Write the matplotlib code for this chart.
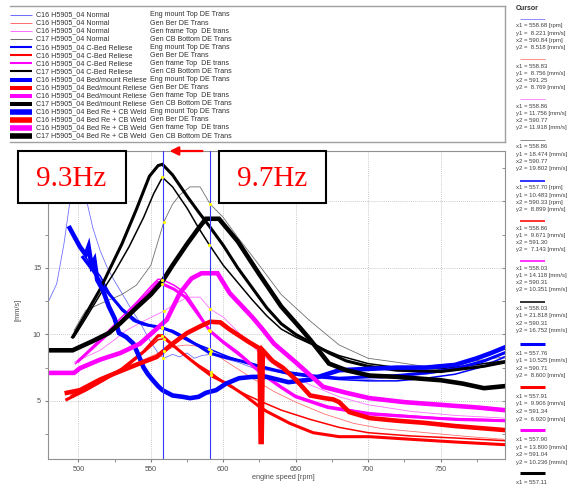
import matplotlib
matplotlib.use('Agg')
import matplotlib.pyplot as plt
from matplotlib.patches import Rectangle
from matplotlib.ticker import MultipleLocator, NullFormatter

plt.rcParams['font.family'] = ['Liberation Sans', 'DejaVu Sans']

# --- legend texts ---
run_names = ['C16 H5905_04 Normal', 'C16 H5905_04 Normal', 'C16 H5905_04 Normal', 'C17 H5905_04 Normal',
             'C16 H5905_04 C-Bed Reliese', 'C16 H5905_04 C-Bed Reliese', 'C16 H5905_04 C-Bed Reliese',
             'C17 H5905_04 C-Bed Reliese',
             'C16 H5905_04 Bed/mount Reliese', 'C16 H5905_04 Bed/mount Reliese',
             'C16 H5905_04 Bed/mount Reliese', 'C17 H5905_04 Bed/mount Reliese',
             'C16 H5905_04 Bed Re + CB Weld', 'C16 H5905_04 Bed Re + CB Weld',
             'C16 H5905_04 Bed Re + CB Weld', 'C17 H5905_04 Bed Re + CB Weld']
channels = ['Eng mount Top DE Trans', 'Gen Ber DE Trans', 'Gen frame Top  DE trans', 'Gen CB Bottom DE Trans']

# --- Normal (thin) ---
normal_eng_rpm = [479, 485, 490, 494, 500, 506, 510, 515, 520, 525, 530, 537, 543, 550, 555, 559, 565, 570, 575, 580,
                  585, 591, 600, 610, 620, 630, 645, 660, 680, 700, 720, 740, 760, 780, 794]
normal_eng_val = [12.4, 13.8, 16.8, 19.9, 22.0, 19.9, 18.0, 16.3, 15.0, 14.0, 13.1, 11.8, 10.8, 9.4, 8.6, 8.2, 8.5,
                  8.3, 8.6, 8.2, 8.4, 8.5, 8.2, 7.9, 7.5, 7.3, 7.0, 6.8, 6.7, 6.6, 6.8, 7.0, 7.3, 7.8, 8.2]
normal_ber_rpm = [497, 505, 515, 530, 545, 559, 567, 575, 583, 591, 600, 610, 620, 635, 650, 670, 690, 710, 740, 770, 794]
normal_ber_val = [5.6, 5.9, 6.5, 7.3, 8.1, 8.76, 9.1, 9.2, 9.1, 8.77, 8.1, 7.4, 6.7, 5.7, 4.9, 4.0, 3.3, 2.9, 2.6,
                  2.3, 2.1]
normal_frame_rpm = [497, 505, 515, 525, 533, 545, 559, 567, 575, 584, 591, 600, 610, 625, 640, 660, 680, 700, 730,
                    760, 794]
normal_frame_val = [7.9, 8.3, 8.8, 9.6, 10.3, 11.0, 11.76, 12.3, 12.8, 12.8, 11.9, 11.3, 10.2, 8.6, 7.3, 6.2, 5.3,
                    4.7, 4.2, 3.9, 3.7]
normal_cb_rpm = [497, 505, 515, 530, 540, 550, 559, 565, 570, 577, 584, 591, 600, 610, 620, 640, 660, 680, 700, 720,
                 738, 760, 780, 794]
normal_cb_val = [10.3, 11.8, 12.3, 13.0, 13.7, 15.2, 18.47, 19.8, 20.5, 21.1, 21.1, 19.8, 18.8, 17.3, 15.9, 13.0,
                 11.0, 9.2, 8.2, 7.9, 7.6, 7.8, 8.1, 8.3]

# --- C-Bed Reliese ---
cbed_eng_rpm = [503, 508, 515, 522, 530, 538, 545, 551, 557.7, 565, 574, 581, 590.3, 597, 604, 615, 630, 645, 660,
                680, 700, 720, 740, 760, 780, 794]
cbed_eng_val = [16.2, 15.3, 14.4, 13.0, 11.8, 11.0, 10.7, 10.6, 10.48, 10.3, 9.8, 9.3, 8.9, 8.6, 8.3, 7.9, 7.4,
                7.0, 6.8, 6.6, 6.5, 6.5, 6.7, 7.0, 7.6, 8.3]
cbed_ber_rpm = [495, 505, 520, 535, 548, 555, 558.9, 566, 575, 583, 591.3, 604, 615, 625, 640, 660, 680, 700, 730,
                760, 794]
cbed_ber_val = [5.4, 5.9, 6.7, 7.7, 8.9, 9.6, 9.67, 9.1, 8.3, 7.7, 7.14, 6.1, 5.5, 5.0, 4.3, 3.6, 3.0, 2.6, 2.35,
                2.2, 2.0]
cbed_frame_rpm = [498, 510, 521, 529, 540, 550, 555, 558, 566, 574, 582, 590.3, 600, 610, 627, 640, 650, 672, 701,
                  750, 794]
cbed_frame_val = [7.8, 9.1, 10.3, 11.2, 12.4, 13.6, 14.15, 14.12, 13.7, 13.1, 11.8, 10.35, 9.5, 8.7, 7.1, 6.1, 5.4,
                  4.6, 4.1, 3.7, 3.55]
cbed_cb_rpm = [497, 505, 515, 525, 535, 545, 552, 558, 565, 575, 583, 590.3, 600, 610, 620, 630, 640, 650, 660, 680,
               700, 720, 750, 780, 794]
cbed_cb_val = [9.8, 11.2, 13.0, 14.7, 16.6, 18.8, 20.6, 21.82, 21.1, 19.5, 18.0, 16.75, 15.2, 13.9, 12.6, 11.4,
               10.4, 9.8, 9.3, 8.4, 7.8, 7.5, 7.4, 7.8, 8.0]

# --- Bed/mount Reliese ---
bedm_eng_rpm = [503, 510, 520, 530, 540, 548, 557.8, 565, 575, 582, 590.7, 600, 612, 625, 640, 660, 680, 700, 720,
                740, 760, 780, 794]
bedm_eng_val = [15.8, 14.8, 13.2, 11.9, 11.0, 10.7, 10.5, 10.2, 9.6, 9.2, 8.6, 8.3, 8.0, 7.6, 7.2, 6.9, 6.7, 6.8,
                6.9, 7.1, 7.4, 8.0, 8.6]
bedm_ber_rpm = [492, 505, 518, 530, 545, 555, 557.9, 565, 575, 583, 591.3, 604, 615, 625, 630, 646, 662, 680, 701,
                730, 760, 794]
bedm_ber_val = [5.1, 5.8, 6.6, 7.4, 8.7, 9.9, 9.9, 9.2, 8.3, 7.6, 6.92, 6.2, 5.4, 4.55, 4.2, 3.3, 2.6, 2.3, 2.3,
                2.1, 1.9, 1.7]
bedm_frame_rpm = [500, 510, 521, 530, 540, 550, 555, 557.9, 566, 574, 582, 591, 600, 612, 627, 640, 650, 672, 701,
                  730, 760, 794]
bedm_frame_val = [8.0, 9.0, 10.1, 11.0, 12.2, 13.3, 13.9, 13.8, 13.4, 12.8, 11.6, 10.24, 9.4, 8.4, 7.0, 6.0, 5.3,
                  4.5, 4.0, 3.8, 3.6, 3.5]
bedm_cb_rpm = [496, 505, 515, 522, 530, 540, 549, 555, 558, 565, 575, 583, 590, 600, 610, 620, 630, 640, 650, 660,
               673, 685, 700, 720, 750, 780, 794]
bedm_cb_val = [9.8, 11.5, 13.4, 15.0, 16.8, 19.4, 21.9, 22.7, 22.8, 22.0, 20.4, 19.2, 18.2, 16.7, 15.0, 13.5, 12.0,
               10.8, 10.0, 9.4, 8.6, 8.0, 7.6, 7.3, 7.2, 7.6, 7.9]

# --- Bed Re + CB Weld ---
weld_eng_rpm = [494, 497, 501, 505, 507, 509, 511, 513, 517, 521, 525, 528, 533, 538, 542, 545, 548, 551, 555, 558,
                565, 572, 577, 583, 588, 595, 602, 611, 620, 630, 645, 660, 680, 700, 720, 740, 760, 775, 785, 794]
weld_eng_val = [18.0, 17.4, 16.6, 16.0, 16.6, 15.2, 15.6, 14.1, 13.3, 12.1, 11.2, 10.1, 9.8, 9.3, 8.3, 7.5, 7.0,
                6.6, 6.1, 5.8, 5.4, 5.3, 5.2, 5.3, 5.6, 5.8, 6.3, 6.7, 6.8, 6.8, 6.4, 6.6, 7.3, 7.4, 7.5, 7.5, 7.7,
                8.2, 8.6, 9.0]
weld_ber_rpm = [492, 501, 515, 526, 542, 554, 565, 575, 584, 591, 598, 604, 611, 618, 625, 625.8, 626.5, 627.3, 634,
                641, 650, 660, 670, 676, 680, 687, 701, 720, 738, 760, 794]
weld_ber_val = [5.6, 5.8, 6.6, 7.1, 7.8, 8.3, 9.3, 10.1, 10.6, 10.95, 10.9, 10.4, 9.9, 9.4, 8.95, 1.9, 1.9, 8.8,
                8.0, 7.5, 6.6, 5.4, 5.2, 5.1, 4.9, 4.15, 3.7, 3.5, 3.35, 3.1, 2.8]
weld_frame_rpm = [479, 497, 501, 515, 529, 542.5, 561, 570, 578, 585, 596, 604.5, 620, 627, 635, 650, 669, 685, 701,
                  725, 750, 775, 794]
weld_frame_val = [7.1, 7.1, 7.45, 8.1, 8.6, 9.3, 11.1, 13.1, 14.2, 14.6, 14.6, 13.1, 11.3, 10.4, 9.3, 7.9, 6.05,
                  5.6, 5.2, 4.9, 4.7, 4.5, 4.3]
weld_cb_rpm = [479, 496, 500, 510, 521, 529, 540, 550, 558, 565, 575, 583, 588, 597, 610, 625, 640, 653, 660, 673,
               685, 701, 720, 750, 765, 780, 794]
weld_cb_val = [8.8, 8.8, 9.0, 9.5, 10.1, 10.85, 12.0, 13.0, 14.0, 15.2, 16.8, 18.0, 18.7, 18.7, 17.0, 14.5, 12.1,
               10.5, 9.6, 7.8, 7.3, 6.9, 6.8, 6.55, 6.3, 5.95, 6.1]

# --- cursor readouts ---
cur_x1 = [558.68, 558.83, 558.86, 558.86, 557.70, 558.86, 558.03, 558.03, 557.76, 557.91, 557.90, 557.11]
cur_y1 = [8.221, 8.756, 11.756, 18.474, 10.483, 9.671, 14.118, 21.818, 10.525, 9.906, 13.800]
cur_x2 = [590.84, 591.25, 590.77, 590.77, 590.33, 591.30, 590.31, 590.31, 590.71, 591.34, 591.04]
cur_y2 = [8.518, 8.769, 11.918, 19.802, 8.899, 7.143, 10.351, 16.752, 8.600, 6.920, 10.236]
cur_rpm_unit = [1, 0, 0, 0, 1, 0, 0, 0, 0, 0, 0, 0]

series = [
    (normal_eng_rpm, normal_eng_val), (normal_ber_rpm, normal_ber_val),
    (normal_frame_rpm, normal_frame_val), (normal_cb_rpm, normal_cb_val),
    (cbed_eng_rpm, cbed_eng_val), (cbed_ber_rpm, cbed_ber_val),
    (cbed_frame_rpm, cbed_frame_val), (cbed_cb_rpm, cbed_cb_val),
    (bedm_eng_rpm, bedm_eng_val), (bedm_ber_rpm, bedm_ber_val),
    (bedm_frame_rpm, bedm_frame_val), (bedm_cb_rpm, bedm_cb_val),
    (weld_eng_rpm, weld_eng_val), (weld_ber_rpm, weld_ber_val),
    (weld_frame_rpm, weld_frame_val), (weld_cb_rpm, weld_cb_val),
]

light = ['#7070ff', '#ff7070', '#ff70ff', '#707070']
full = ['#0000ff', '#ff0000', '#ff00ff', '#000000']
plot_lw = [0.6, 1.1, 2.2, 3.3]
leg_lw = [0.75, 1.5, 2.9, 4.0]


def colour(i):
    return light[i % 4] if i < 4 else full[i % 4]


fig = plt.figure(figsize=(5.84, 4.84), dpi=100)
ax = fig.add_axes([48 / 584, 25 / 484, 457 / 584, 308 / 484])

for i, (xs, ys) in enumerate(series):
    ax.plot(xs, ys, color=colour(i), lw=plot_lw[i // 4], solid_joinstyle='miter')

# cursor lines + small markers
ax.axvline(cur_x1[0], color='#3838ff', lw=0.8, zorder=6)
ax.axvline(cur_x2[0], color='#3838ff', lw=0.8, zorder=6)
ax.plot(cur_x1[:11], cur_y1, ls='none', marker='o', ms=1.3, color='yellow', zorder=7)
ax.plot(cur_x2, cur_y2, ls='none', marker='o', ms=1.3, color='yellow', zorder=7)

ax.set_xlim(479, 794.5)
ax.set_ylim(0.62, 23.8)
ax.xaxis.set_major_locator(MultipleLocator(50))
ax.xaxis.set_minor_locator(MultipleLocator(25))
ax.yaxis.set_major_locator(MultipleLocator(5))
ax.yaxis.set_minor_locator(MultipleLocator(2.5))
ax.tick_params(which='both', direction='out', color='#808080', labelsize=5.3, labelcolor='#505050', pad=2.5)
ax.tick_params(which='major', length=2.5)
ax.tick_params(which='minor', length=2)
ax.grid(True, which='major', color='#b8b8b8', linestyle=(0, (1, 1.5)), lw=0.6)
for sp in ax.spines.values():
    sp.set_color('#909090')
    sp.set_linewidth(0.8)

# inward ticks on the right edge
sec = ax.secondary_yaxis('right')
sec.yaxis.set_major_locator(MultipleLocator(5))
sec.yaxis.set_minor_locator(MultipleLocator(2.5))
sec.yaxis.set_major_formatter(NullFormatter())
sec.tick_params(which='both', direction='in', color='#808080', length=2.5)
sec.spines['right'].set_visible(False)

ax.set_xlabel('engine speed [rpm]', fontsize=5.3, color='#505050')
ax.xaxis.set_label_coords(0.516, -0.05)
ax.set_ylabel('[mm/s]', fontsize=5.3, color='#505050')
ax.yaxis.set_label_coords(-0.058, 0.484)

ax.annotate('', xy=(561, 23.8), xytext=(587.5, 23.8), annotation_clip=False,
            arrowprops=dict(arrowstyle='-|>', color='red', lw=1.6, mutation_scale=13))

# overlay in pixel coordinates for legend, cursor panel, boxes
ov = fig.add_axes([0, 0, 1, 1], zorder=5)
ov.set_xlim(0, 584)
ov.set_ylim(484, 0)
ov.axis('off')

ov.plot([10, 505], [6, 6], color='#a0a0a0', lw=1)
ov.plot([10, 505], [141.5, 141.5], color='#a0a0a0', lw=1)
ov.plot([505, 505], [6, 141.5], color='#a0a0a0', lw=1)
for i in range(16):
    y = 15 + 8.07 * i
    ov.plot([10, 32], [y, y], color=colour(i), lw=leg_lw[i // 4], solid_capstyle='butt')
    ov.text(36, y, run_names[i], fontsize=5.1, va='center', color='#303030')
    ov.text(150, y, channels[i % 4], fontsize=5.1, va='center', color='#303030')

ov.text(516, 8, 'Cursor', fontsize=5, fontweight='bold', va='center', color='#303030')
line_y = [19, 59, 99, 140, 181, 221, 261, 301.7, 343.7, 386.7, 430, 473.3]
for g in range(12):
    ov.plot([520, 545], [line_y[g], line_y[g]], color=colour(g), lw=leg_lw[g // 4] * 0.75,
            solid_capstyle='butt')
    step = 7.2 if g < 8 else 7.6
    off = 7 if g < 8 else 9.5
    u = ' [rpm]' if cur_rpm_unit[g] else ''
    if g < 11:
        rows = ['x1 = %.2f%s' % (cur_x1[g], u), 'y1 = %6.3f [mm/s]' % cur_y1[g],
                'x2 = %.2f%s' % (cur_x2[g], u), 'y2 = %6.3f [mm/s]' % cur_y2[g]]
    else:
        rows = ['x1 = %.2f%s' % (cur_x1[g], u)]
    for k, r in enumerate(rows):
        ov.text(516, line_y[g] + off + k * step, r, fontsize=4.3, va='center', color='#404040')

for (x0, x1), label in [((17.5, 125.5), '9.3Hz'), ((218.5, 325.5), '9.7Hz')]:
    ov.add_patch(Rectangle((x0, 150.5), x1 - x0, 52, fc='white', ec='black', lw=1.5))
    ov.text((x0 + x1) / 2, 186.5, label, ha='center', va='baseline', color='red', fontsize=21,
            family=['Liberation Serif', 'DejaVu Serif'])

fig.savefig('out.png', dpi=100)
